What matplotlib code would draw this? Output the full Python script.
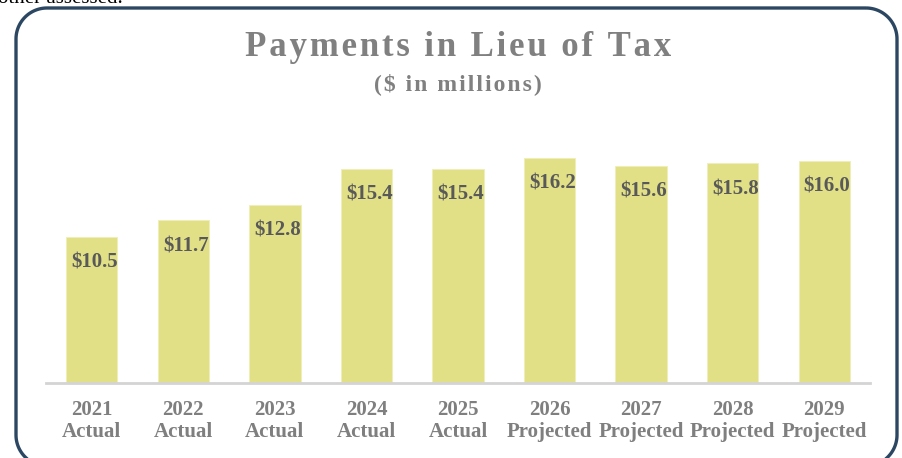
import matplotlib
matplotlib.use("Agg")
import matplotlib.pyplot as plt
from matplotlib.patches import Polygon
import numpy as np

years = ["2021", "2022", "2023", "2024", "2025", "2026", "2027", "2028", "2029"]
kinds = ["Actual"] * 5 + ["Projected"] * 4
payments = [10.5, 11.7, 12.8, 15.4, 15.4, 16.2, 15.6, 15.8, 16.0]

W, H = 903, 458
plt.rcParams['font.family'] = ['Liberation Serif', 'DejaVu Sans']

fig = plt.figure(figsize=(W / 100, H / 100), dpi=100)

# background layer in pixel coordinates (frame + cut text above)
bg = fig.add_axes([0, 0, 1, 1])
bg.set_xlim(0, W)
bg.set_ylim(H, 0)
bg.axis('off')


def rounded_outline(x0, y0, x1, y1, r, n=30):
    pts = []
    corners = [(x1 - r, y0 + r, -90, 0), (x1 - r, y1 - r, 0, 90),
               (x0 + r, y1 - r, 90, 180), (x0 + r, y0 + r, 180, 270)]
    for cx, cy, a0, a1 in corners:
        t = np.radians(np.linspace(a0, a1, n))
        pts += list(zip(cx + r * np.cos(t), cy + r * np.sin(t)))
    return np.array(pts)


frame = Polygon(rounded_outline(16, 8, 897, 466, 31), closed=True, fill=False,
                edgecolor='#2c4762', linewidth=2.4, joinstyle='round')
bg.add_patch(frame)
bg.text(-2, 3, "other assessed.", fontsize=15, color='black', va='baseline', ha='left')

spaced = lambda s: "\u200a".join(s)
bg.text(458, 47, spaced("Payments in Lieu of Tax"), fontsize=25, fontweight='bold',
        color='#808080', ha='center', va='center')
bg.text(458, 84, spaced("($ in millions)"), fontsize=17, fontweight='bold',
        color='#808080', ha='center', va='center')

# chart area
left, right, base, top = 46, 870, 383, 120
ax = fig.add_axes([left / W, (H - base) / H, (right - left) / W, (base - top) / H])
ax.patch.set_alpha(0)
x = np.arange(len(years))
ax.bar(x, payments, width=0.56, color='#e1e087', edgecolor='#eeeeb8', linewidth=0.6)
ax.set_xlim(-0.5, len(years) - 0.5)
ax.set_ylim(0, (base - top) / 13.9)

for xi, v in zip(x, payments):
    ax.text(xi + 0.03, v - 1.85, f"${v:.1f}", ha='center', va='center',
            fontsize=15, fontweight='bold', color='#595959')

ax.set_xticks(x)
ax.set_xticklabels([f"{y}\n{k}" for y, k in zip(years, kinds)], fontsize=15,
                   fontweight='bold', color='#7f7f7f', linespacing=1.15)
ax.tick_params(axis='x', length=0, pad=12)
ax.set_yticks([])
for s in ['top', 'right', 'left']:
    ax.spines[s].set_visible(False)
ax.spines['bottom'].set_color('#d4d4d4')
ax.spines['bottom'].set_linewidth(2)

fig.savefig("out.png", dpi=100)
